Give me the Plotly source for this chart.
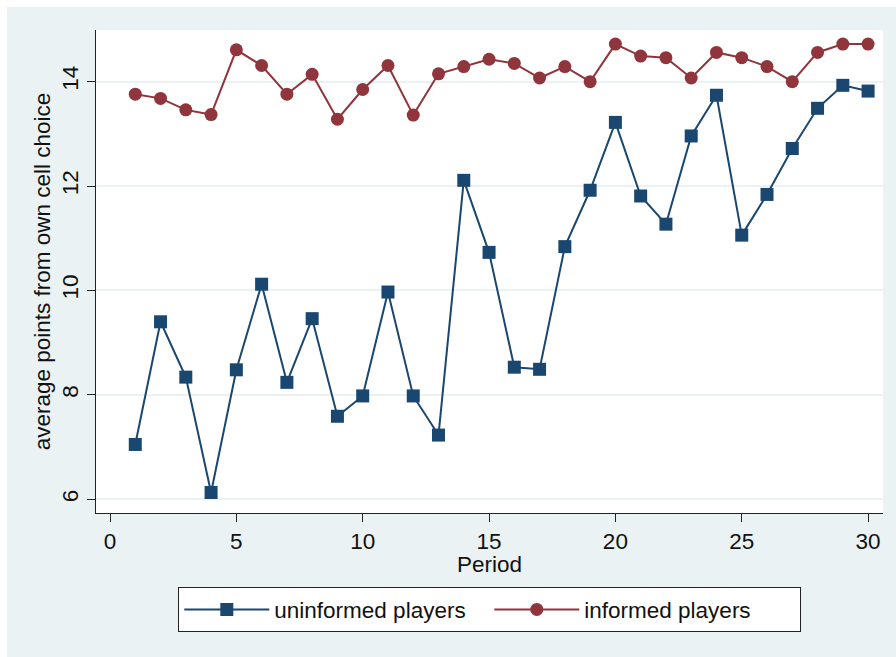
import plotly.graph_objects as go

# Average points per period for the two player groups
periods = list(range(1, 31))
uninformed = [7.05, 9.40, 8.34, 6.13, 8.48, 10.12, 8.24, 9.46, 7.59, 7.98,
              9.97, 7.98, 7.23, 12.11, 10.73, 8.53, 8.49, 10.84, 11.92, 13.22,
              11.81, 11.27, 12.96, 13.74, 11.06, 11.84, 12.72, 13.49, 13.93, 13.82]
informed = [13.76, 13.68, 13.46, 13.37, 14.61, 14.31, 13.76, 14.14, 13.28, 13.85,
            14.31, 13.36, 14.15, 14.29, 14.43, 14.35, 14.07, 14.29, 14.00, 14.72,
            14.49, 14.46, 14.07, 14.56, 14.46, 14.29, 14.00, 14.56, 14.72, 14.72]
series_names = ["uninformed players", "informed players"]

x_ticks = [0, 5, 10, 15, 20, 25, 30]
y_ticks = [6, 8, 10, 12, 14]

NAVY = "#1a476f"
MAROON = "#90353b"
BG = "#eaf2f3"
FONT = "Liberation Sans, Arial, sans-serif"
FS = 22.5

W, H = 896, 657
L, R, T, B = 96, 13, 30, 144

fig = go.Figure()
fig.add_trace(go.Scatter(
    x=periods, y=uninformed, name=series_names[0], mode="lines+markers",
    line=dict(color=NAVY, width=2),
    marker=dict(symbol="square", size=13, color=NAVY),
))
fig.add_trace(go.Scatter(
    x=periods, y=informed, name=series_names[1], mode="lines+markers",
    line=dict(color=MAROON, width=2),
    marker=dict(symbol="circle", size=13, color=MAROON),
))

pw = W - L - R
ph = H - T - B
# thin white strips along the top and left edge of the canvas
fig.add_shape(type="rect", xref="paper", yref="paper",
              x0=-L / pw, x1=(7 - L) / pw, y0=-B / ph, y1=(H - B) / ph + 0.01,
              fillcolor="white", line_width=0, layer="above")
fig.add_shape(type="rect", xref="paper", yref="paper",
              x0=-L / pw, x1=(W - L) / pw + 0.01, y0=(T - 7 + ph) / ph, y1=(H - B) / ph + 0.01,
              fillcolor="white", line_width=0, layer="above")

# x-axis title placed just under the tick labels
fig.add_annotation(text="Period", xref="paper", yref="paper", x=(489 - L) / pw,
                   y=-(564 - (H - B)) / ph, xanchor="center", yanchor="middle",
                   showarrow=False, font=dict(family=FONT, size=FS, color="#111111"))

fig.update_layout(
    width=W, height=H,
    margin=dict(l=L, r=R, t=T, b=B),
    paper_bgcolor=BG, plot_bgcolor="white",
    font=dict(family=FONT, size=FS, color="#111111"),
    showlegend=True,
    legend=dict(
        orientation="h", x=0.5, xanchor="center", y=-(587 - 513) / ph, yanchor="top",
        bgcolor="white", bordercolor="#222222", borderwidth=1.3,
        font=dict(family=FONT, size=FS, color="#111111"),
        itemwidth=85, entrywidth=210,
    ),
    xaxis=dict(
        range=[-0.554, 30.59], tickvals=x_ticks, ticks="outside", ticklen=8,
        tickwidth=1.3, tickcolor="#222222", showgrid=False, zeroline=False,
        showline=True, linecolor="#222222", linewidth=1.3,
        tickfont=dict(size=FS),
    ),
    yaxis=dict(
        range=[5.737, 14.99], tickvals=y_ticks, ticks="outside", ticklen=8,
        tickwidth=1.3, tickcolor="#222222", showgrid=True, gridcolor=BG,
        gridwidth=1.5, zeroline=False, showline=True, linecolor="#222222",
        linewidth=1.3, tickangle=-90,
        title=dict(text="average points from own cell choice", standoff=0,
                   font=dict(size=FS)),
        tickfont=dict(size=FS),
    ),
)

fig.write_html("out.html")
